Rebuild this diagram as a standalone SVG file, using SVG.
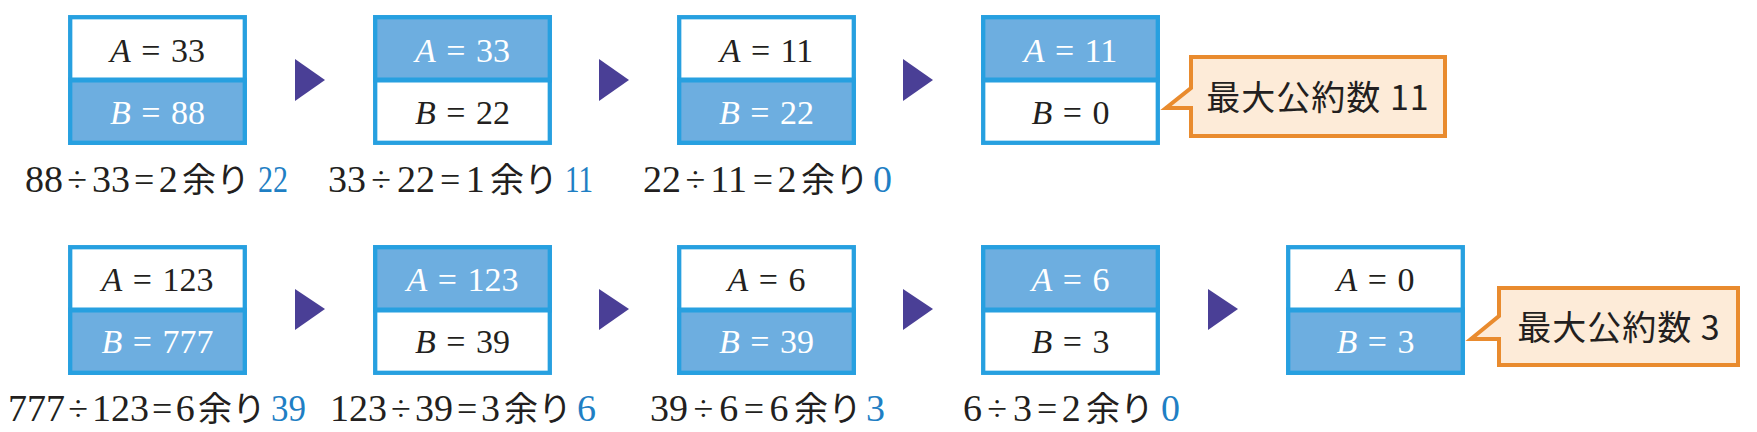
<svg xmlns="http://www.w3.org/2000/svg" width="1757" height="432" viewBox="0 0 1757 432">
<style>
.w{fill:#ffffff}
.b{fill:#6daee0}
.frame{fill:none;stroke:#27a0e0;stroke-width:4.3}
.div{stroke:#27a0e0;stroke-width:5}
.bt{font-family:"Liberation Serif","Noto Sans CJK JP",serif;font-size:34px;text-anchor:middle;word-spacing:2px}
.bt .i{font-style:italic}
.dk{fill:#231f20}
.lt{fill:#ffffff}
.eq{font-family:"Liberation Serif","Noto Sans CJK JP",serif;font-size:38px;fill:#231f20}
.eq .o{font-size:36px}
.eq .j{font-family:"Noto Sans CJK JP",sans-serif;font-size:34px}
.rem{font-family:"Liberation Serif",serif;font-size:38px;fill:#1f7fc4}
.arr{fill:#4a3f96}
.call{fill:#fdebd8;stroke:#e98b2e;stroke-width:4;stroke-linejoin:miter}
.ct{font-family:"Noto Sans CJK JP","Noto Sans",sans-serif;font-size:34px;text-anchor:middle;fill:#231f20;letter-spacing:1px}
</style>
<rect width="1757" height="432" fill="#ffffff"/>

<!-- Row 1 -->
<g id="r1b1">
<rect class="w" x="68" y="15" width="179" height="65"/>
<rect class="b" x="68" y="80" width="179" height="65"/>
<rect class="frame" x="70.2" y="17.2" width="174.6" height="125.6"/>
<line class="div" x1="68" y1="80" x2="247" y2="80"/>
<text class="bt dk" x="157.5" y="62"><tspan class="i">A</tspan> = 33</text>
<text class="bt lt" x="157.5" y="124"><tspan class="i">B</tspan> = 88</text>
</g>
<g id="r1b2">
<rect class="b" x="373" y="15" width="179" height="65"/>
<rect class="w" x="373" y="80" width="179" height="65"/>
<rect class="frame" x="375.2" y="17.2" width="174.6" height="125.6"/>
<line class="div" x1="373" y1="80" x2="552" y2="80"/>
<text class="bt lt" x="462.5" y="62"><tspan class="i">A</tspan> = 33</text>
<text class="bt dk" x="462.5" y="124"><tspan class="i">B</tspan> = 22</text>
</g>
<g id="r1b3">
<rect class="w" x="677" y="15" width="179" height="65"/>
<rect class="b" x="677" y="80" width="179" height="65"/>
<rect class="frame" x="679.2" y="17.2" width="174.6" height="125.6"/>
<line class="div" x1="677" y1="80" x2="856" y2="80"/>
<text class="bt dk" x="766.5" y="62"><tspan class="i">A</tspan> = 11</text>
<text class="bt lt" x="766.5" y="124"><tspan class="i">B</tspan> = 22</text>
</g>
<g id="r1b4">
<rect class="b" x="981" y="15" width="179" height="65"/>
<rect class="w" x="981" y="80" width="179" height="65"/>
<rect class="frame" x="983.2" y="17.2" width="174.6" height="125.6"/>
<line class="div" x1="981" y1="80" x2="1160" y2="80"/>
<text class="bt lt" x="1070.5" y="62"><tspan class="i">A</tspan> = 11</text>
<text class="bt dk" x="1070.5" y="124"><tspan class="i">B</tspan> = 0</text>
</g>
<g id="r1call">
<path class="call" d="M1191,57 H1445 V136 H1191 V108 H1166 L1191,88 Z"/>
<text class="ct" x="1318" y="110">最大公約数 11</text>
</g>

<!-- Row 2 -->
<g id="r2b1">
<rect class="w" x="68" y="245" width="179" height="65"/>
<rect class="b" x="68" y="310" width="179" height="65"/>
<rect class="frame" x="70.2" y="247.2" width="174.6" height="125.6"/>
<line class="div" x1="68" y1="310" x2="247" y2="310"/>
<text class="bt dk" x="157.5" y="291"><tspan class="i">A</tspan> = 123</text>
<text class="bt lt" x="157.5" y="353"><tspan class="i">B</tspan> = 777</text>
</g>
<g id="r2b2">
<rect class="b" x="373" y="245" width="179" height="65"/>
<rect class="w" x="373" y="310" width="179" height="65"/>
<rect class="frame" x="375.2" y="247.2" width="174.6" height="125.6"/>
<line class="div" x1="373" y1="310" x2="552" y2="310"/>
<text class="bt lt" x="462.5" y="291"><tspan class="i">A</tspan> = 123</text>
<text class="bt dk" x="462.5" y="353"><tspan class="i">B</tspan> = 39</text>
</g>
<g id="r2b3">
<rect class="w" x="677" y="245" width="179" height="65"/>
<rect class="b" x="677" y="310" width="179" height="65"/>
<rect class="frame" x="679.2" y="247.2" width="174.6" height="125.6"/>
<line class="div" x1="677" y1="310" x2="856" y2="310"/>
<text class="bt dk" x="766.5" y="291"><tspan class="i">A</tspan> = 6</text>
<text class="bt lt" x="766.5" y="353"><tspan class="i">B</tspan> = 39</text>
</g>
<g id="r2b4">
<rect class="b" x="981" y="245" width="179" height="65"/>
<rect class="w" x="981" y="310" width="179" height="65"/>
<rect class="frame" x="983.2" y="247.2" width="174.6" height="125.6"/>
<line class="div" x1="981" y1="310" x2="1160" y2="310"/>
<text class="bt lt" x="1070.5" y="291"><tspan class="i">A</tspan> = 6</text>
<text class="bt dk" x="1070.5" y="353"><tspan class="i">B</tspan> = 3</text>
</g>
<g id="r2b5">
<rect class="w" x="1286" y="245" width="179" height="65"/>
<rect class="b" x="1286" y="310" width="179" height="65"/>
<rect class="frame" x="1288.2" y="247.2" width="174.6" height="125.6"/>
<line class="div" x1="1286" y1="310" x2="1465" y2="310"/>
<text class="bt dk" x="1375.5" y="291"><tspan class="i">A</tspan> = 0</text>
<text class="bt lt" x="1375.5" y="353"><tspan class="i">B</tspan> = 3</text>
</g>
<g id="r2call">
<path class="call" d="M1499,288 H1738 V365 H1499 V339 H1471 L1499,316 Z"/>
<text class="ct" x="1619" y="340">最大公約数 3</text>
</g>

<!-- Connectors (arrows) -->
<g id="connectors">
<polygon class="arr" points="295,59 325,80 295,101"/>
<polygon class="arr" points="599,59 629,80 599,101"/>
<polygon class="arr" points="903,59 933,80 903,101"/>
<polygon class="arr" points="295,289 325,309 295,330"/>
<polygon class="arr" points="599,289 629,309 599,330"/>
<polygon class="arr" points="903,289 933,309 903,330"/>
<polygon class="arr" points="1208,289 1238,309 1208,330"/>
</g>

<!-- Equations -->
<g id="equations">
<text class="eq" y="192"><tspan x="25">88</tspan><tspan class="o" x="67.3">÷</tspan><tspan x="91.9">33</tspan><tspan class="o" x="134.1">=</tspan><tspan x="158.7">2</tspan><tspan class="j" x="182">余り</tspan></text>
<text class="rem" x="258" y="192" textLength="30" lengthAdjust="spacingAndGlyphs">22</text>

<text class="eq" y="192"><tspan x="328">33</tspan><tspan class="o" x="371.3">÷</tspan><tspan x="396.9">22</tspan><tspan class="o" x="440.1">=</tspan><tspan x="465.7">1</tspan><tspan class="j" x="490">余り</tspan></text>
<text class="rem" x="565" y="192" textLength="28" lengthAdjust="spacingAndGlyphs">11</text>

<text class="eq" y="192"><tspan x="643">22</tspan><tspan class="o" x="685.5">÷</tspan><tspan x="710.3">11</tspan><tspan class="o" x="752.7">=</tspan><tspan x="777.5">2</tspan><tspan class="j" x="801">余り</tspan></text>
<text class="rem" x="873" y="192">0</text>

<text class="eq" y="421"><tspan x="8">777</tspan><tspan class="o" x="68.3">÷</tspan><tspan x="91.9">123</tspan><tspan class="o" x="152.1">=</tspan><tspan x="175.7">6</tspan><tspan class="j" x="198">余り</tspan></text>
<text class="rem" x="271" y="421" textLength="35" lengthAdjust="spacingAndGlyphs">39</text>

<text class="eq" y="421"><tspan x="330">123</tspan><tspan class="o" x="390.9">÷</tspan><tspan x="415.1">39</tspan><tspan class="o" x="456.9">=</tspan><tspan x="481.1">3</tspan><tspan class="j" x="504">余り</tspan></text>
<text class="rem" x="577" y="421">6</text>

<text class="eq" y="421"><tspan x="650">39</tspan><tspan class="o" x="693.5">÷</tspan><tspan x="719.3">6</tspan><tspan class="o" x="743.7">=</tspan><tspan x="769.5">6</tspan><tspan class="j" x="794">余り</tspan></text>
<text class="rem" x="866" y="421">3</text>

<text class="eq" y="421"><tspan x="963">6</tspan><tspan class="o" x="987.3">÷</tspan><tspan x="1012.9">3</tspan><tspan class="o" x="1037.1">=</tspan><tspan x="1061.7">2</tspan><tspan class="j" x="1086">余り</tspan></text>
<text class="rem" x="1161" y="421">0</text>
</g>
</svg>
